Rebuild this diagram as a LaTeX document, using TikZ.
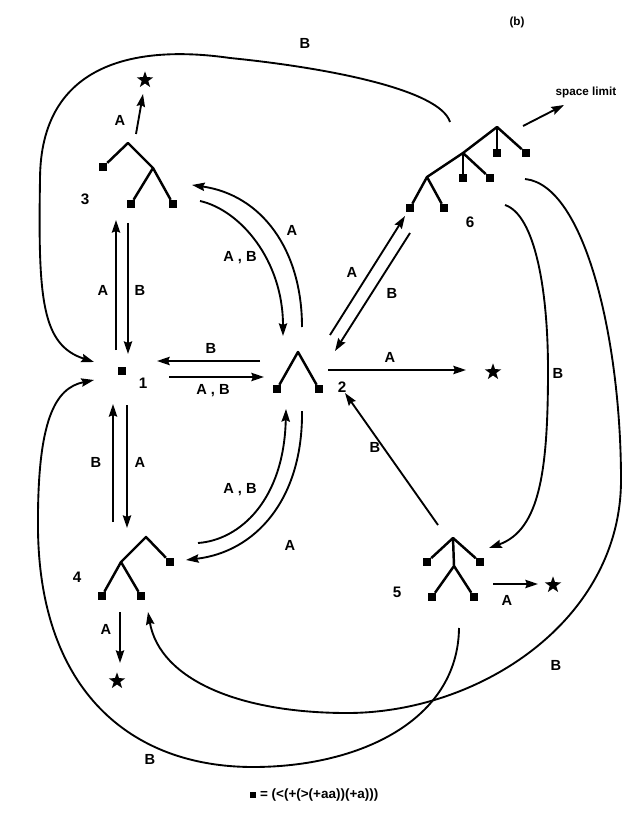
\documentclass[tikz,border=0pt]{standalone}
\usepackage{fontspec}
\setmainfont{Liberation Sans}
\usetikzlibrary{arrows.meta,shapes.geometric}

\begin{document}
\begin{tikzpicture}[
  x=0.3mm,y=-0.3mm,
  leaf/.style={rectangle,fill,minimum size=2.4mm,inner sep=0pt},
  branch/.style={line width=2.1pt,line join=round},
  move/.style={line width=1.6pt,-{Stealth[length=3.8mm,width=2.5mm,inset=0.5mm]}},
  lab/.style={font=\fontsize{12.5}{14}\selectfont\bfseries},
  num/.style={font=\fontsize{13}{15}\selectfont\bfseries},
  small/.style={font=\fontsize{10}{12}\selectfont\bfseries},
  goal/.style={star,star points=5,star point ratio=2.5,fill,minimum size=5.2mm,inner sep=0pt}
]
\useasboundingbox (0,0) rectangle (624,835);
\node[small] (tag) at (517,22) {(b)};

% ---------------- tree 3 ----------------
\coordinate (r3) at (128,143);
\coordinate (j3) at (153,168);
\node[leaf] (l3a) at (103,167) {};
\node[leaf] (l3b) at (131,204) {};
\node[leaf] (l3c) at (173,204) {};
\draw[branch] (l3a) -- (r3) -- (j3) -- (l3c);
\draw[branch] (j3) -- (l3b);
\node[num] (n3) at (85,199) {3};

% ---------------- node 1 ----------------
\node[leaf] (l1) at (122,371) {};
\node[num] (n1) at (143,383) {1};

% ---------------- tree 2 ----------------
\coordinate (r2) at (298,352);
\node[leaf] (l2a) at (277,389) {};
\node[leaf] (l2b) at (319,389) {};
\draw[branch] (l2a) -- (r2) -- (l2b);
\node[num] (n2) at (342,387) {2};

% ---------------- tree 4 ----------------
\coordinate (r4) at (146,537);
\coordinate (j4) at (121,562);
\node[leaf] (l4a) at (170,562) {};
\node[leaf] (l4b) at (102,596) {};
\node[leaf] (l4c) at (141,596) {};
\draw[branch] (l4a) -- (r4) -- (j4) -- (l4b);
\draw[branch] (j4) -- (l4c);
\node[num] (n4) at (77,577) {4};

% ---------------- tree 5 ----------------
\coordinate (r5) at (453,538);
\coordinate (j5) at (454,566);
\node[leaf] (l5a) at (427,562) {};
\node[leaf] (l5b) at (480,562) {};
\node[leaf] (l5c) at (432,597) {};
\node[leaf] (l5d) at (474,597) {};
\draw[branch] (l5a) -- (r5) -- (l5b);
\draw[branch] (r5) -- (j5) -- (l5c);
\draw[branch] (j5) -- (l5d);
\node[num] (n5) at (397,592) {5};

% ---------------- tree 6 ----------------
\coordinate (r6) at (497,127);
\coordinate (j6) at (463,153);
\coordinate (k6) at (427,177);
\node[leaf] (l6a) at (497,153) {};
\node[leaf] (l6b) at (526,153) {};
\node[leaf] (l6c) at (463,178) {};
\node[leaf] (l6d) at (490,178) {};
\node[leaf] (l6e) at (410,208) {};
\node[leaf] (l6f) at (444,208) {};
\draw[branch] (l6b) -- (r6) -- (j6) -- (k6) -- (l6e);
\draw[branch] (r6) -- (l6a);
\draw[branch] (j6) -- (l6c);
\draw[branch] (j6) -- (l6d);
\draw[branch] (k6) -- (l6f);
\node[num] (n6) at (470,222) {6};

% ---------------- dead ends ----------------
\node[goal] (s3) at (145,80) {};
\node[goal] (s2) at (493,372) {};
\node[goal] (s4) at (117,681) {};
\node[goal] (s5) at (553,585) {};
\node[small] (lim) at (586,92) {space limit};

% ---------------- end points ----------------
\coordinate (a3s) at (136,134);  \coordinate (b3s) at (143,94);
\coordinate (a2s) at (328,370);  \coordinate (b2s) at (466,370);
\coordinate (a4s) at (120,612);  \coordinate (b4s) at (120,663);
\coordinate (a5s) at (493,584);  \coordinate (b5s) at (538,584);
\coordinate (a6l) at (523,126);  \coordinate (b6l) at (564,105);
\coordinate (u13) at (116,350);  \coordinate (v13) at (116,220);
\coordinate (u31) at (128,223);  \coordinate (v31) at (128,354);
\coordinate (u41) at (113,522);  \coordinate (v41) at (113,404);
\coordinate (u14) at (127,405);  \coordinate (v14) at (127,528);
\coordinate (u21) at (260,361);  \coordinate (v21) at (157,361);
\coordinate (u12) at (169,377);  \coordinate (v12) at (264,377);
\coordinate (u26) at (330,335);  \coordinate (v26) at (405,216);
\coordinate (u62) at (410,233);  \coordinate (v62) at (335,351);
\coordinate (u52) at (438,525);  \coordinate (v52) at (345,393);
\coordinate (u23) at (302,327);  \coordinate (v23) at (192,185);
\coordinate (u32) at (200,201);  \coordinate (v32) at (283,336);
\coordinate (u42) at (198,543);  \coordinate (v42) at (286,409);
\coordinate (u24) at (302,411);  \coordinate (v24) at (186,560);
\coordinate (u61) at (450,122);  \coordinate (v61) at (94,362);
\coordinate (u51) at (459,628);  \coordinate (v51) at (94,380);
\coordinate (u65) at (505,205);  \coordinate (v65) at (489,548);
\coordinate (u64) at (525,179);  \coordinate (v64) at (148,612);

% ---------------- moves ----------------
\draw[move] (a3s) -- (b3s);
\draw[move] (a2s) -- (b2s);
\draw[move] (a4s) -- (b4s);
\draw[move] (a5s) -- (b5s);
\draw[move] (a6l) -- (b6l);
\draw[move] (u13) -- (v13);
\draw[move] (u31) -- (v31);
\draw[move] (u41) -- (v41);
\draw[move] (u14) -- (v14);
\draw[move] (u21) -- (v21);
\draw[move] (u12) -- (v12);
\draw[move] (u26) -- (v26);
\draw[move] (u62) -- (v62);
\draw[move] (u52) -- (v52);
\draw[move] (u23) .. controls (302,250) and (262,195) .. (v23);
\draw[move] (u32) .. controls (240,210) and (283,260) .. (v32);
\draw[move] (u42) .. controls (240,540) and (284,500) .. (v42);
\draw[move] (u24) .. controls (303,500) and (255,552) .. (v24);
\draw[move] (u61) .. controls (440,90) and (330,68) .. (230,58)
  .. controls (140,45) and (40,60) .. (40,180)
  .. controls (38,300) and (42,345) .. (v61);
\draw[move] (u51) .. controls (458,720) and (360,767) .. (253,767)
  .. controls (130,767) and (40,690) .. (38,530)
  .. controls (37,420) and (55,388) .. (v51);
\draw[move] (u65) .. controls (535,215) and (548,290) .. (548,370)
  .. controls (548,470) and (540,530) .. (v65);
\draw[move] (u64) .. controls (585,185) and (621,340) .. (621,480)
  .. controls (621,620) and (480,713) .. (347,713)
  .. controls (240,713) and (160,680) .. (v64);

% ---------------- labels ----------------
\node[lab] (t3s) at (120,120) {A};
\node[lab] (t2s) at (390,357) {A};
\node[lab] (t4s) at (106,629) {A};
\node[lab] (t5s) at (507,600) {A};
\node[lab] (t13) at (103,290) {A};
\node[lab] (t31) at (140,290) {B};
\node[lab] (t41) at (96,462) {B};
\node[lab] (t14) at (140,462) {A};
\node[lab] (t21) at (211,348) {B};
\node[lab] (t12) at (213,391) {A , B};
\node[lab] (t26) at (352,272) {A};
\node[lab] (t62) at (392,293) {B};
\node[lab] (t52) at (375,447) {B};
\node[lab] (t23) at (292,230) {A};
\node[lab] (t32) at (240,258) {A , B};
\node[lab] (t42) at (240,490) {A , B};
\node[lab] (t24) at (290,545) {A};
\node[lab] (t61) at (305,43) {B};
\node[lab] (t51) at (150,759) {B};
\node[lab] (t65) at (558,373) {B};
\node[lab] (t64) at (556,665) {B};

% ---------------- key ----------------
\node[font=\fontsize{11.5}{13}\selectfont\bfseries] (key) at (314,795)
  {\rule{2mm}{2mm} = (<(+(>(+aa))(+a)))};
\end{tikzpicture}
\end{document}
